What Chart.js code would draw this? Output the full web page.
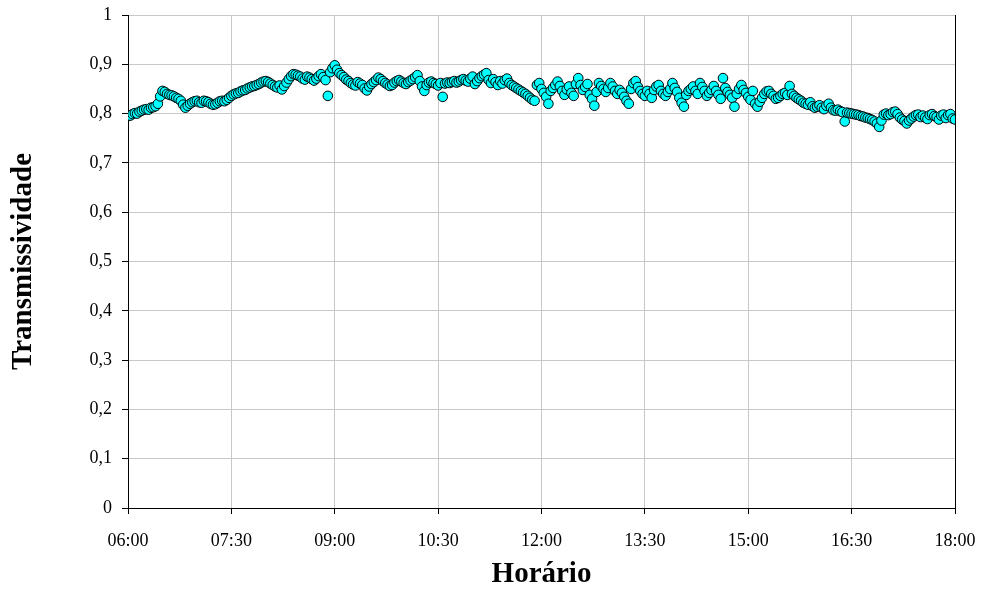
<!DOCTYPE html>
<html>
<head>
<meta charset="utf-8">
<script src="https://cdn.jsdelivr.net/npm/chart.js@4/dist/chart.umd.min.js"></script>
<style>
  html, body { margin: 0; padding: 0; background: #fff; }
  #wrap { width: 984px; height: 594px; }
</style>
</head>
<body>
<div id="wrap"><canvas id="Canvasnya" width="984" height="594"></canvas></div>
<script>
var ctx = document.getElementById("Canvasnya").getContext('2d');

// readings every 2 minutes starting at 06:00
var startMinute = 6 * 60;
var stepMinutes = 2;
var transmissividade = [
  0.795, 0.796, 0.799, 0.801, 0.800, 0.804, 0.806, 0.808, 0.809, 0.808,
  0.812, 0.813, 0.815, 0.820, 0.835, 0.846, 0.844, 0.840, 0.838, 0.837,
  0.835, 0.832, 0.830, 0.826, 0.818, 0.812, 0.816, 0.820, 0.823, 0.825,
  0.826, 0.823, 0.822, 0.826, 0.825, 0.823, 0.820, 0.818, 0.819, 0.822,
  0.825, 0.826, 0.825, 0.828, 0.832, 0.836, 0.839, 0.841, 0.842, 0.845,
  0.847, 0.848, 0.851, 0.853, 0.855, 0.856, 0.858, 0.860, 0.863, 0.865,
  0.866, 0.864, 0.861, 0.858, 0.855, 0.853, 0.857, 0.849, 0.856, 0.863,
  0.870, 0.876, 0.880, 0.879, 0.877, 0.875, 0.871, 0.869, 0.875, 0.873,
  0.870, 0.867, 0.871, 0.876, 0.880, 0.874, 0.868, 0.836, 0.884, 0.892,
  0.898, 0.889, 0.882, 0.878, 0.874, 0.869, 0.866, 0.862, 0.859, 0.857,
  0.864, 0.861, 0.858, 0.851, 0.847, 0.855, 0.860, 0.864, 0.868, 0.873,
  0.870, 0.866, 0.862, 0.859, 0.856, 0.858, 0.863, 0.866, 0.868, 0.865,
  0.862, 0.860, 0.864, 0.867, 0.870, 0.874, 0.878, 0.866, 0.855, 0.846,
  0.858, 0.863, 0.865, 0.862, 0.860, 0.857, 0.862, 0.834, 0.861, 0.863,
  0.862, 0.864, 0.866, 0.863, 0.865, 0.868, 0.870, 0.867, 0.865, 0.871,
  0.875, 0.860, 0.866, 0.872, 0.876, 0.879, 0.882, 0.868, 0.862, 0.870,
  0.864, 0.858, 0.866, 0.861, 0.868, 0.871, 0.862, 0.858, 0.855, 0.852,
  0.849, 0.846, 0.843, 0.840, 0.836, 0.832, 0.828, 0.826, 0.858, 0.862,
  0.850, 0.842, 0.834, 0.820, 0.846, 0.852, 0.858, 0.865, 0.856, 0.846,
  0.838, 0.849, 0.855, 0.842, 0.836, 0.860, 0.872, 0.858, 0.848, 0.854,
  0.860, 0.838, 0.830, 0.816, 0.844, 0.862, 0.856, 0.850, 0.844, 0.852,
  0.862, 0.855, 0.846, 0.840, 0.848, 0.842, 0.834, 0.826, 0.820, 0.850,
  0.862, 0.866, 0.854, 0.846, 0.840, 0.836, 0.846, 0.840, 0.832, 0.848,
  0.855, 0.858, 0.846, 0.840, 0.836, 0.844, 0.850, 0.862, 0.852, 0.844,
  0.832, 0.822, 0.814, 0.838, 0.846, 0.850, 0.855, 0.846, 0.840, 0.862,
  0.854, 0.846, 0.836, 0.842, 0.848, 0.856, 0.846, 0.838, 0.830, 0.872,
  0.852, 0.844, 0.838, 0.832, 0.814, 0.840, 0.850, 0.858, 0.848, 0.842,
  0.834, 0.828, 0.846, 0.820, 0.814, 0.824, 0.832, 0.840, 0.845, 0.846,
  0.840, 0.836, 0.830, 0.832, 0.836, 0.840, 0.842, 0.838, 0.856, 0.840,
  0.836, 0.832, 0.829, 0.826, 0.822, 0.820, 0.818, 0.823, 0.815, 0.812,
  0.814, 0.817, 0.812, 0.809, 0.816, 0.820, 0.812, 0.807, 0.806, 0.808,
  0.805, 0.803, 0.784, 0.802, 0.801, 0.800, 0.799, 0.798, 0.797, 0.795,
  0.794, 0.792, 0.791, 0.789, 0.787, 0.784, 0.780, 0.773, 0.786, 0.798,
  0.800, 0.797, 0.799, 0.803, 0.804, 0.799, 0.792, 0.788, 0.785, 0.780,
  0.786, 0.790, 0.794, 0.797, 0.798, 0.793, 0.796, 0.792, 0.789, 0.797,
  0.799, 0.795, 0.793, 0.788, 0.796, 0.798, 0.791, 0.797, 0.799, 0.790,
  0.788
];

var xTickStep = 90; // 06:00, 07:30, ... 18:00
var yTickStep = 0.1;

var points = transmissividade.map(function (v, i) {
  return { x: startMinute + i * stepMinutes, y: v };
});

function hhmm(m) {
  var h = Math.floor(m / 60), mm = Math.round(m % 60);
  return (h < 10 ? '0' : '') + h + ':' + (mm < 10 ? '0' : '') + mm;
}

// black right-hand frame line of the plot area
var frame = {
  id: 'frame',
  afterDatasetsDraw: function (chart) {
    var a = chart.chartArea, c = chart.ctx;
    c.save();
    c.strokeStyle = '#000';
    c.lineWidth = 1;
    c.beginPath();
    c.moveTo(Math.round(a.right) + 0.5, a.top);
    c.lineTo(Math.round(a.right) + 0.5, a.bottom);
    c.stroke();
    c.restore();
  }
};

var myChart = new Chart(ctx, {
  type: 'scatter',
  data: {
    datasets: [{
      label: 'Transmissividade',
      data: points,
      backgroundColor: '#00ffff',
      borderColor: '#000',
      borderWidth: 1,
      pointRadius: 4.8,
      pointHoverRadius: 4.8
    }]
  },
  options: {
    responsive: false,
    animation: false,
    layout: { padding: { top: 15, right: 29, left: 0, bottom: 0 } },
    plugins: { legend: { display: false }, tooltip: { enabled: false } },
    scales: {
      x: {
        type: 'linear',
        min: startMinute,
        max: startMinute + 720,
        afterFit: function (s) {
          s.height = 86;
          s.paddingLeft = 0;
          s.paddingRight = 0;
        },
        ticks: {
          stepSize: xTickStep,
          padding: 16,
          color: '#000',
          font: { family: 'Liberation Serif', size: 18 },
          maxRotation: 0,
          callback: function (v) { return hhmm(v); }
        },
        grid: { color: '#c8c8c8', tickColor: '#000', tickLength: 6 },
        border: { color: '#000' },
        title: {
          display: true,
          text: 'Horário',
          color: '#000',
          font: { family: 'Liberation Serif', size: 29, weight: 'bold' },
          padding: { top: 0, bottom: 2 }
        }
      },
      y: {
        min: 0,
        max: 1,
        afterFit: function (s) {
          s.width = 128;
          s.paddingTop = 0;
          s.paddingBottom = 0;
        },
        ticks: {
          stepSize: yTickStep,
          padding: 10,
          color: '#000',
          font: { family: 'Liberation Serif', size: 18 },
          callback: function (v) {
            var r = Math.round(v * 10) / 10;
            return (r === 0 || r === 1) ? String(r) : r.toFixed(1).replace('.', ',');
          }
        },
        grid: { color: '#c8c8c8', tickColor: '#000', tickLength: 6 },
        border: { color: '#000' },
        title: {
          display: true,
          text: 'Transmissividade',
          color: '#000',
          font: { family: 'Liberation Serif', size: 29, weight: 'bold' },
          padding: { top: 6, bottom: 0 }
        }
      }
    }
  },
  plugins: [frame]
});
</script>
</body>
</html>
